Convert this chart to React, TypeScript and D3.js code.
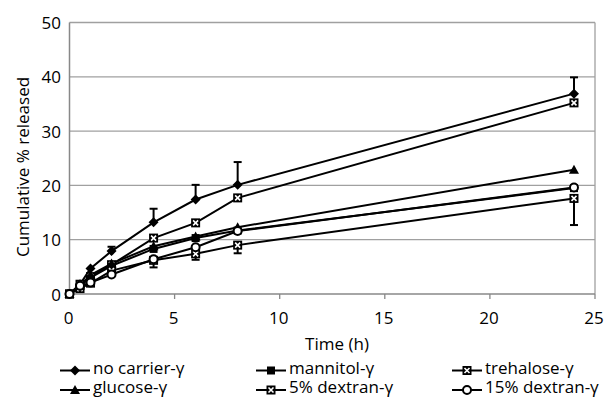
import React from "react";
import * as d3 from "d3";

const times = [0, 0.5, 1, 2, 4, 6, 8, 24];
const noCarrier = [0, 1.8, 4.7, 7.9, 13.2, 17.4, 20.1, 36.9];
const noCarrierErrUp = [0, 0, 0, 0.8, 2.5, 2.7, 4.2, 3.0];
const mannitol = [0, 1.5, 3.0, 5.2, 8.3, 10.3, 11.7, 19.5];
const trehalose = [0, 1.8, 3.2, 5.4, 10.3, 13.1, 17.7, 35.2];
const glucose = [0, 1.5, 3.5, 5.6, 8.8, 10.6, 12.3, 22.9];
const dextran5 = [0, 1.0, 2.0, 4.3, 6.2, 7.4, 9.0, 17.6];
const dextran5ErrDown = [0, 0, 0, 0, 1.3, 1.1, 1.5, 4.9];
const dextran15 = [0, 1.5, 2.1, 3.6, 6.4, 8.6, 11.6, 19.6];

const xTicks = [0, 5, 10, 15, 20, 25];
const yTicks = [0, 10, 20, 30, 40, 50];

type Marker = "diamond" | "square" | "xsquare" | "triangle" | "circle";

const seriesList: { name: string; values: number[]; marker: Marker }[] = [
  { name: "no carrier-γ", values: noCarrier, marker: "diamond" },
  { name: "mannitol-γ", values: mannitol, marker: "square" },
  { name: "trehalose-γ", values: trehalose, marker: "xsquare" },
  { name: "glucose-γ", values: glucose, marker: "triangle" },
  { name: "5% dextran-γ", values: dextran5, marker: "xsquare" },
  { name: "15% dextran-γ", values: dextran15, marker: "circle" },
];

const FONT = "'Open Sans', 'Noto Sans', sans-serif";

function MarkerShape({ type, x, y }: { type: Marker; x: number; y: number }) {
  switch (type) {
    case "diamond":
      return <path d={`M${x},${y - 5}L${x + 5},${y}L${x},${y + 5}L${x - 5},${y}Z`} fill="#000" />;
    case "square":
      return <rect x={x - 4} y={y - 4} width={8} height={8} fill="#000" />;
    case "triangle":
      return <path d={`M${x},${y - 5}L${x + 5},${y + 4}L${x - 5},${y + 4}Z`} fill="#000" />;
    case "circle":
      return <circle cx={x} cy={y} r={4} fill="#fff" stroke="#000" strokeWidth={2} />;
    case "xsquare":
      return (
        <g>
          <rect x={x - 4.5} y={y - 4.5} width={9} height={9} fill="#000" />
          <path d={`M${x - 2.5},${y - 2.5}L${x + 2.5},${y + 2.5}M${x + 2.5},${y - 2.5}L${x - 2.5},${y + 2.5}`} stroke="#fff" strokeWidth={1.6} />
        </g>
      );
  }
}

export default function App() {
  const W = 608;
  const H = 398;
  const left = 69.5;
  const right = 595;
  const top = 22.5;
  const bottom = 294;
  const x = d3.scaleLinear().domain([0, 25]).range([left, right]);
  const y = d3.scaleLinear().domain([0, 50]).range([bottom, top]);
  const line = d3
    .line<number>()
    .x((_, i) => x(times[i]))
    .y((v) => y(v));

  const legendCols = [60, 256, 452];
  const legendRows = [370.5, 390];
  const legendBaselines = [374, 393];

  return (
    <svg width={W} height={H} style={{ position: "absolute", left: 0, top: 0, background: "#fff" }}>
      {/* gridlines */}
      {yTicks.slice(1).map((t) => (
        <line key={t} x1={left} x2={right} y1={y(t)} y2={y(t)} stroke="#a0a0a0" strokeWidth={1.3} />
      ))}
      <line x1={right} x2={right} y1={top} y2={bottom} stroke="#a0a0a0" strokeWidth={1.3} />
      {/* axes */}
      <line x1={left} x2={left} y1={top} y2={bottom} stroke="#888" strokeWidth={1.5} />
      <line x1={left} x2={right} y1={bottom} y2={bottom} stroke="#888" strokeWidth={1.5} />
      {xTicks.map((t) => (
        <line key={t} x1={x(t)} x2={x(t)} y1={bottom} y2={bottom + 5} stroke="#888" strokeWidth={1.3} />
      ))}
      {xTicks.map((t) => (
        <text key={t} x={x(t) - 1} y={317} textAnchor="middle" dominantBaseline="central" fontFamily={FONT} fontSize={17} fill="#000">
          {t}
        </text>
      ))}
      {yTicks.map((t) => (
        <text key={t} x={61} y={y(t)} textAnchor="end" dominantBaseline="central" fontFamily={FONT} fontSize={17} fill="#000">
          {t}
        </text>
      ))}
      <text
        transform={`translate(22,${167}) rotate(-90)`}
        textAnchor="middle"
        dominantBaseline="central"
        fontFamily={FONT}
        fontSize={17}
        fill="#000"
      >
        Cumulative % released
      </text>
      <text x={337} y={343} textAnchor="middle" dominantBaseline="central" fontFamily={FONT} fontSize={17} fill="#000">
        Time (h)
      </text>

      {/* error bars */}
      {noCarrierErrUp.map((e, i) =>
        e > 0 ? (
          <g key={"ec" + i} stroke="#000" strokeWidth={2}>
            <line x1={x(times[i])} x2={x(times[i])} y1={y(noCarrier[i])} y2={y(noCarrier[i] + e)} />
            <line x1={x(times[i]) - 4} x2={x(times[i]) + 4} y1={y(noCarrier[i] + e)} y2={y(noCarrier[i] + e)} />
          </g>
        ) : null
      )}
      {dextran5ErrDown.map((e, i) =>
        e > 0 ? (
          <g key={"ed" + i} stroke="#000" strokeWidth={2}>
            <line x1={x(times[i])} x2={x(times[i])} y1={y(dextran5[i])} y2={y(dextran5[i] - e)} />
            <line x1={x(times[i]) - 4} x2={x(times[i]) + 4} y1={y(dextran5[i] - e)} y2={y(dextran5[i] - e)} />
          </g>
        ) : null
      )}

      {/* lines */}
      {seriesList.map((s) => (
        <path key={s.name} d={line(s.values) || ""} fill="none" stroke="#000" strokeWidth={2} />
      ))}
      {/* markers */}
      {seriesList.map((s) => (
        <g key={"m" + s.name}>
          {s.values.map((v, i) => (
            <MarkerShape key={i} type={s.marker} x={x(times[i])} y={y(v)} />
          ))}
        </g>
      ))}

      {/* legend */}
      {seriesList.map((s, i) => {
        const cx = legendCols[i % 3];
        const row = Math.floor(i / 3);
        const cy = legendRows[row];
        return (
          <g key={"l" + s.name}>
            <line x1={cx} x2={cx + 30} y1={cy} y2={cy} stroke="#000" strokeWidth={2} />
            <MarkerShape type={s.marker} x={cx + 15} y={cy} />
            <text x={cx + 33} y={legendBaselines[row]} fontFamily={FONT} fontSize={17} fill="#000">
              {s.name}
            </text>
          </g>
        );
      })}
    </svg>
  );
}
